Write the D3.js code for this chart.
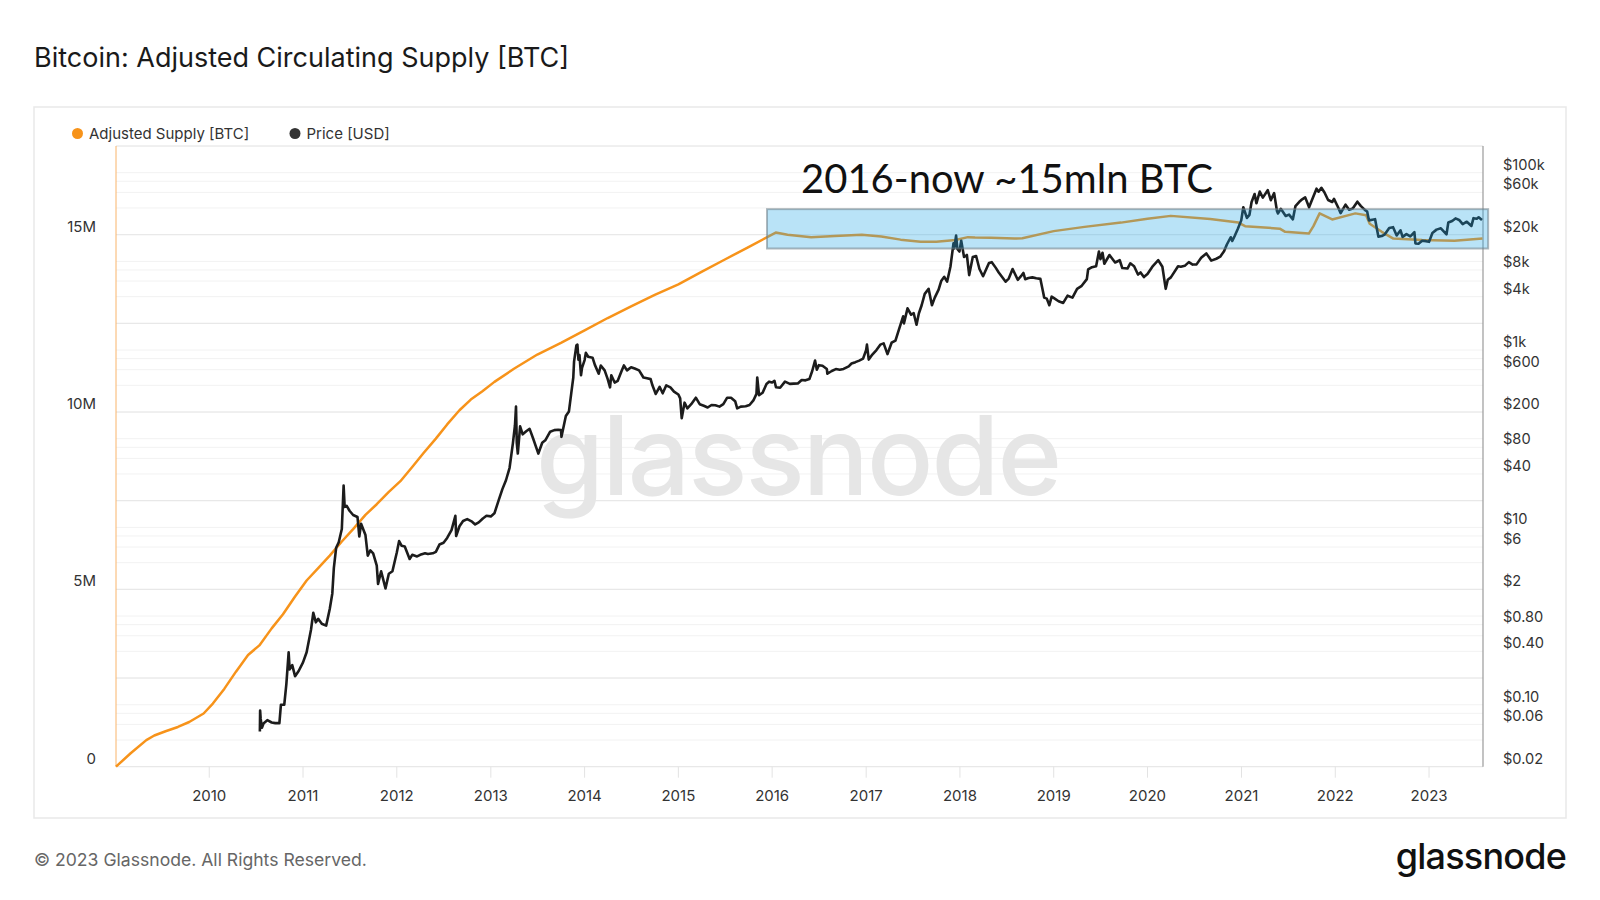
<!DOCTYPE html>
<html>
<head>
<meta charset="utf-8">
<script src="https://cdn.jsdelivr.net/npm/d3@7"></script>
<style>
  html, body { margin: 0; padding: 0; background: #fff; }
  svg { display: block; font-family: Inter, "Noto Sans", sans-serif; }
</style>
</head>
<body>
<div id="chart"></div>
<script>
// Adjusted circulating supply [date, BTC millions]
const supply = [
  ["2009-01-03", 0], ["2009-03-01", 0.38], ["2009-05-01", 0.75], ["2009-06-01", 0.88],
  ["2009-07-15", 1.0], ["2009-09-01", 1.12], ["2009-10-15", 1.26], ["2009-12-10", 1.5],
  ["2010-01-15", 1.78], ["2010-03-01", 2.2], ["2010-04-15", 2.68], ["2010-06-01", 3.15],
  ["2010-07-15", 3.42], ["2010-09-01", 3.9], ["2010-10-15", 4.3], ["2010-12-01", 4.8],
  ["2011-01-15", 5.25], ["2011-03-01", 5.6], ["2011-04-15", 5.95], ["2011-06-01", 6.35],
  ["2011-07-15", 6.7], ["2011-09-01", 7.1], ["2011-10-15", 7.4], ["2011-12-01", 7.75],
  ["2012-01-15", 8.05], ["2012-03-01", 8.45], ["2012-04-15", 8.85], ["2012-06-01", 9.25],
  ["2012-07-15", 9.65], ["2012-09-01", 10.05], ["2012-10-15", 10.35], ["2012-11-28", 10.58],
  ["2013-01-15", 10.85], ["2013-04-01", 11.22], ["2013-07-01", 11.62], ["2013-10-01", 11.95],
  ["2014-01-01", 12.3], ["2014-04-01", 12.65], ["2014-07-01", 12.98], ["2014-10-01", 13.3],
  ["2015-01-01", 13.6], ["2015-04-01", 13.95], ["2015-07-01", 14.3], ["2015-10-01", 14.65],
  ["2016-01-15", 15.06], ["2016-03-01", 15.0], ["2016-06-01", 14.93], ["2016-09-01", 14.96],
  ["2016-12-15", 15.0], ["2017-03-01", 14.95], ["2017-05-15", 14.86], ["2017-08-01", 14.8],
  ["2017-10-01", 14.8], ["2017-12-15", 14.85], ["2018-02-01", 14.93], ["2018-03-01", 14.92],
  ["2018-05-01", 14.91], ["2018-08-01", 14.89], ["2018-09-01", 14.9], ["2019-01-01", 15.1],
  ["2019-05-01", 15.22], ["2019-09-20", 15.34], ["2020-01-01", 15.45], ["2020-04-01", 15.53],
  ["2020-09-01", 15.44], ["2020-12-20", 15.34], ["2021-01-15", 15.24], ["2021-05-30", 15.17],
  ["2021-06-20", 15.08], ["2021-09-20", 15.03], ["2021-10-08", 15.24], ["2021-11-01", 15.6],
  ["2021-12-20", 15.43], ["2022-03-20", 15.6], ["2022-05-01", 15.55], ["2022-05-15", 15.31],
  ["2022-07-01", 15.08], ["2022-08-15", 14.89], ["2022-12-05", 14.85], ["2023-04-10", 14.83],
  ["2023-07-28", 14.89]
];

// BTC price [date, USD]
const price = [
  ["2010-07-17", 0.05], ["2010-07-18", 0.086], ["2010-07-20", 0.07], ["2010-07-25", 0.055],
  ["2010-08-01", 0.062], ["2010-08-15", 0.067], ["2010-09-01", 0.063], ["2010-09-15", 0.062],
  ["2010-10-01", 0.062], ["2010-10-07", 0.1], ["2010-10-20", 0.1], ["2010-10-28", 0.17],
  ["2010-11-06", 0.39], ["2010-11-10", 0.25], ["2010-11-20", 0.28], ["2010-12-01", 0.21],
  ["2010-12-15", 0.24], ["2011-01-01", 0.3], ["2011-01-15", 0.39], ["2011-02-01", 0.7],
  ["2011-02-10", 1.09], ["2011-02-20", 0.85], ["2011-03-01", 0.93], ["2011-03-15", 0.82],
  ["2011-04-01", 0.78], ["2011-04-15", 1.2], ["2011-04-25", 1.8], ["2011-05-01", 3.5],
  ["2011-05-10", 5.9], ["2011-05-20", 6.8], ["2011-06-01", 9.6], ["2011-06-08", 29.6],
  ["2011-06-12", 17], ["2011-06-20", 17.5], ["2011-07-01", 15.4], ["2011-07-15", 13.8],
  ["2011-08-01", 13.1], ["2011-08-08", 7.9], ["2011-08-15", 11.0], ["2011-09-01", 8.2],
  ["2011-09-10", 4.8], ["2011-09-20", 5.5], ["2011-10-01", 5.1], ["2011-10-15", 3.7],
  ["2011-10-20", 2.3], ["2011-11-01", 3.2], ["2011-11-18", 2.05], ["2011-12-01", 3.0],
  ["2011-12-15", 3.2], ["2012-01-01", 5.2], ["2012-01-10", 7.0], ["2012-01-20", 6.2],
  ["2012-02-01", 6.1], ["2012-02-20", 4.4], ["2012-03-01", 4.9], ["2012-03-20", 4.7],
  ["2012-04-01", 4.9], ["2012-04-20", 5.1], ["2012-05-01", 5.0], ["2012-05-20", 5.1],
  ["2012-06-01", 5.3], ["2012-06-15", 6.4], ["2012-07-01", 6.7], ["2012-07-15", 7.6],
  ["2012-08-01", 9.3], ["2012-08-16", 13.5], ["2012-08-19", 8.0], ["2012-09-01", 10.3],
  ["2012-09-15", 11.8], ["2012-10-01", 12.4], ["2012-10-20", 11.6], ["2012-11-01", 10.8],
  ["2012-11-15", 11.4], ["2012-12-01", 12.6], ["2012-12-15", 13.5], ["2013-01-01", 13.3],
  ["2013-01-15", 14.4], ["2013-02-01", 20.4], ["2013-02-15", 27], ["2013-03-01", 34],
  ["2013-03-15", 47], ["2013-03-28", 89], ["2013-04-05", 142], ["2013-04-09", 230],
  ["2013-04-12", 90], ["2013-04-16", 68], ["2013-04-25", 138], ["2013-05-05", 112],
  ["2013-05-20", 122], ["2013-06-01", 129], ["2013-06-15", 100], ["2013-07-05", 68],
  ["2013-07-20", 90], ["2013-08-01", 96], ["2013-08-20", 120], ["2013-09-05", 125],
  ["2013-09-20", 126], ["2013-10-01", 125], ["2013-10-03", 105], ["2013-10-20", 180],
  ["2013-11-01", 203], ["2013-11-10", 325], ["2013-11-18", 490], ["2013-11-21", 740],
  ["2013-11-30", 1130], ["2013-12-04", 1150], ["2013-12-08", 780], ["2013-12-12", 880],
  ["2013-12-18", 520], ["2013-12-22", 630], ["2014-01-01", 770], ["2014-01-06", 930],
  ["2014-01-15", 840], ["2014-02-01", 820], ["2014-02-10", 680], ["2014-02-25", 540],
  ["2014-03-05", 670], ["2014-03-20", 590], ["2014-04-01", 470], ["2014-04-10", 380],
  ["2014-04-15", 520], ["2014-04-28", 430], ["2014-05-10", 450], ["2014-05-25", 580],
  ["2014-06-03", 670], ["2014-06-15", 590], ["2014-07-01", 640], ["2014-07-15", 620],
  ["2014-08-01", 590], ["2014-08-18", 490], ["2014-09-01", 480], ["2014-09-15", 470],
  ["2014-09-22", 400], ["2014-10-05", 320], ["2014-10-20", 385], ["2014-11-01", 325],
  ["2014-11-15", 400], ["2014-12-01", 380], ["2014-12-15", 340], ["2015-01-01", 315],
  ["2015-01-08", 285], ["2015-01-14", 170], ["2015-01-25", 255], ["2015-02-05", 220],
  ["2015-02-20", 245], ["2015-03-10", 290], ["2015-03-25", 245], ["2015-04-10", 235],
  ["2015-04-25", 225], ["2015-05-10", 240], ["2015-05-25", 238], ["2015-06-10", 230],
  ["2015-06-25", 245], ["2015-07-10", 290], ["2015-07-25", 290], ["2015-08-10", 265],
  ["2015-08-18", 220], ["2015-09-01", 230], ["2015-09-20", 232], ["2015-10-05", 240],
  ["2015-10-20", 270], ["2015-11-01", 320], ["2015-11-04", 490], ["2015-11-11", 310],
  ["2015-11-25", 330], ["2015-12-10", 415], ["2015-12-20", 440], ["2016-01-01", 430],
  ["2016-01-10", 450], ["2016-01-16", 380], ["2016-02-01", 375], ["2016-02-20", 440],
  ["2016-03-10", 415], ["2016-03-25", 418], ["2016-04-10", 420], ["2016-04-25", 460],
  ["2016-05-10", 455], ["2016-05-25", 470], ["2016-06-05", 580], ["2016-06-16", 760],
  ["2016-06-23", 600], ["2016-07-01", 675], ["2016-07-15", 665], ["2016-08-01", 610],
  ["2016-08-03", 540], ["2016-08-20", 580], ["2016-09-05", 610], ["2016-09-20", 600],
  ["2016-10-05", 612], ["2016-10-25", 655], ["2016-11-05", 705], ["2016-11-20", 730],
  ["2016-12-05", 760], ["2016-12-20", 800], ["2017-01-01", 1000], ["2017-01-04", 1150],
  ["2017-01-11", 780], ["2017-01-25", 890], ["2017-02-10", 1000], ["2017-02-25", 1150],
  ["2017-03-10", 1190], ["2017-03-25", 900], ["2017-04-10", 1210], ["2017-04-25", 1280],
  ["2017-05-10", 1760], ["2017-05-25", 2400], ["2017-05-28", 2000], ["2017-06-11", 2950],
  ["2017-06-25", 2500], ["2017-07-05", 2600], ["2017-07-16", 1930], ["2017-07-25", 2580],
  ["2017-08-05", 3200], ["2017-08-17", 4300], ["2017-09-01", 4900], ["2017-09-14", 3200],
  ["2017-09-25", 3900], ["2017-10-10", 4800], ["2017-10-20", 6000], ["2017-11-01", 6700],
  ["2017-11-12", 5900], ["2017-11-25", 8700], ["2017-12-07", 16000], ["2017-12-10", 14000],
  ["2017-12-17", 19500], ["2017-12-22", 13800], ["2017-12-30", 12900], ["2018-01-06", 17100],
  ["2018-01-17", 11200], ["2018-01-28", 11800], ["2018-02-06", 7000], ["2018-02-20", 11200],
  ["2018-03-05", 11500], ["2018-03-18", 8200], ["2018-04-01", 6800], ["2018-04-24", 9600],
  ["2018-05-05", 9800], ["2018-05-20", 8500], ["2018-06-01", 7500], ["2018-06-28", 5900],
  ["2018-07-10", 6400], ["2018-07-25", 8200], ["2018-08-14", 6200], ["2018-08-30", 7000],
  ["2018-09-05", 7400], ["2018-09-12", 6300], ["2018-09-25", 6500], ["2018-10-10", 6600],
  ["2018-10-25", 6450], ["2018-11-10", 6350], ["2018-11-20", 4600], ["2018-11-25", 3900],
  ["2018-12-05", 3800], ["2018-12-15", 3200], ["2018-12-24", 4000], ["2019-01-05", 3800],
  ["2019-01-20", 3550], ["2019-02-07", 3400], ["2019-02-24", 4100], ["2019-03-15", 3900],
  ["2019-04-02", 4900], ["2019-04-20", 5300], ["2019-05-10", 6300], ["2019-05-15", 8100],
  ["2019-05-30", 8600], ["2019-06-15", 8800], ["2019-06-26", 12900], ["2019-07-02", 10600],
  ["2019-07-10", 12500], ["2019-07-17", 9400], ["2019-08-06", 11800], ["2019-08-28", 9700],
  ["2019-09-15", 10300], ["2019-09-25", 8400], ["2019-10-15", 8300], ["2019-10-26", 9500],
  ["2019-11-10", 8800], ["2019-11-25", 7100], ["2019-12-05", 7500], ["2019-12-18", 6650],
  ["2020-01-01", 7200], ["2020-01-20", 8700], ["2020-02-12", 10300], ["2020-02-28", 8700],
  ["2020-03-12", 4900], ["2020-03-20", 6200], ["2020-04-01", 6600], ["2020-04-29", 8800],
  ["2020-05-10", 8700], ["2020-05-25", 8900], ["2020-06-10", 9800], ["2020-06-25", 9200],
  ["2020-07-10", 9250], ["2020-07-28", 11000], ["2020-08-17", 12300], ["2020-09-05", 10200],
  ["2020-09-25", 10700], ["2020-10-10", 11300], ["2020-10-25", 13000], ["2020-11-05", 15500],
  ["2020-11-20", 18700], ["2020-11-26", 17000], ["2020-12-05", 19200], ["2020-12-17", 23000],
  ["2020-12-31", 29000], ["2021-01-08", 40800], ["2021-01-22", 30900], ["2021-02-01", 33500],
  ["2021-02-09", 46400], ["2021-02-21", 57500], ["2021-02-28", 45200], ["2021-03-13", 61200],
  ["2021-03-25", 52300], ["2021-04-13", 63500], ["2021-04-25", 49000], ["2021-05-08", 58800],
  ["2021-05-19", 37000], ["2021-05-23", 34700], ["2021-06-03", 39200], ["2021-06-22", 32500],
  ["2021-07-05", 33700], ["2021-07-20", 29800], ["2021-07-30", 42000], ["2021-08-14", 47000],
  ["2021-08-22", 49300], ["2021-09-06", 52700], ["2021-09-21", 40700], ["2021-10-05", 51500],
  ["2021-10-20", 66000], ["2021-10-28", 61000], ["2021-11-08", 67500], ["2021-11-20", 59700],
  ["2021-12-04", 49200], ["2021-12-20", 46700], ["2021-12-27", 50700], ["2022-01-10", 41800],
  ["2022-01-22", 35000], ["2022-02-10", 43600], ["2022-02-24", 38300], ["2022-03-10", 39400],
  ["2022-03-28", 47100], ["2022-04-10", 42200], ["2022-04-26", 38100], ["2022-05-05", 36500],
  ["2022-05-12", 29000], ["2022-05-25", 29500], ["2022-06-05", 29900], ["2022-06-13", 22500],
  ["2022-06-18", 19000], ["2022-07-01", 19300], ["2022-07-13", 20200], ["2022-07-30", 23800],
  ["2022-08-14", 24300], ["2022-08-28", 19600], ["2022-09-12", 22400], ["2022-09-20", 18900],
  ["2022-10-05", 20300], ["2022-10-20", 19100], ["2022-11-05", 21300], ["2022-11-09", 15900],
  ["2022-11-21", 15800], ["2022-12-05", 17100], ["2022-12-20", 16900], ["2023-01-01", 16600],
  ["2023-01-14", 20900], ["2023-01-30", 22800], ["2023-02-16", 23600], ["2023-03-10", 20200],
  ["2023-03-17", 27400], ["2023-04-01", 28500], ["2023-04-14", 30500], ["2023-04-28", 29300],
  ["2023-05-12", 26300], ["2023-05-28", 28000], ["2023-06-15", 25100], ["2023-06-23", 30700],
  ["2023-07-06", 30300], ["2023-07-13", 31400], ["2023-07-26", 29200]
];

const years = [2010, 2011, 2012, 2013, 2014, 2015, 2016, 2017, 2018, 2019, 2020, 2021, 2022, 2023];
const supplyGrid = [0, 2.5, 5, 7.5, 10, 12.5, 15, 17.5];
const supplyLabels = [[0, "0"], [5, "5M"], [10, "10M"], [15, "15M"]];
const priceMantissas = [2, 4, 6, 8, 10];
const priceLabels = [
  [100000, "$100k"], [60000, "$60k"], [20000, "$20k"], [8000, "$8k"], [4000, "$4k"],
  [1000, "$1k"], [600, "$600"], [200, "$200"], [80, "$80"], [40, "$40"],
  [10, "$10"], [6, "$6"], [2, "$2"], [0.8, "$0.80"], [0.4, "$0.40"],
  [0.1, "$0.10"], [0.06, "$0.06"], [0.02, "$0.02"]
];
// highlighted period: start/end dates and supply band (millions)
const highlight = { start: "2015-12-12", end: "2023-08-19", lo: 14.61, hi: 15.72 };

const parse = d3.utcParse("%Y-%m-%d");
const width = 1600;
const height = 900;
const plot = { left: 116, right: 1483, top: 146, bottom: 766.7 };

const x = d3.scaleUtc()
  .domain([parse("2009-01-03"), parse("2023-07-30")])
  .range([plot.left, plot.right]);
const ySupply = d3.scaleLinear().domain([0, 17.5]).range([plot.bottom, plot.top]);
const yPrice = d3.scaleLog().domain([0.02, 200000]).range([plot.bottom, plot.top]);

const svg = d3.select("#chart").append("svg")
  .attr("width", width)
  .attr("height", height);

// title
svg.append("text")
  .attr("x", 34).attr("y", 67)
  .attr("font-size", 27).attr("fill", "#1a1a1a")
  .text("Bitcoin: Adjusted Circulating Supply [BTC]");

// panel
svg.append("rect")
  .attr("x", 34).attr("y", 107).attr("width", 1532).attr("height", 711)
  .attr("fill", "#fff").attr("stroke", "#e9e9e9").attr("stroke-width", 1.5);

// legend
const legend = svg.append("g").attr("font-size", 15).attr("fill", "#333");
[["Adjusted Supply [BTC]", "#f7931a", 77.5], ["Price [USD]", "#333333", 295]].forEach(([label, color, cx]) => {
  legend.append("circle").attr("cx", cx).attr("cy", 133.5).attr("r", 5.5).attr("fill", color);
  legend.append("text").attr("x", cx + 11.5).attr("y", 139).text(label);
});

// grid
const gGrid = svg.append("g");
const priceGrid = [];
for (let k = -2; k <= 4; k++) {
  priceMantissas.forEach((m) => priceGrid.push(+(m * Math.pow(10, k)).toPrecision(3)));
}
priceGrid.push(200000);
gGrid.selectAll(".pgrid")
  .data(priceGrid)
  .join("line")
  .attr("class", "pgrid")
  .attr("x1", plot.left).attr("x2", plot.right)
  .attr("y1", (d) => yPrice(d)).attr("y2", (d) => yPrice(d))
  .attr("stroke", "#f2f2f2").attr("stroke-width", 1);
gGrid.selectAll(".sgrid")
  .data(supplyGrid)
  .join("line")
  .attr("class", "sgrid")
  .attr("x1", plot.left).attr("x2", plot.right)
  .attr("y1", (d) => ySupply(d)).attr("y2", (d) => ySupply(d))
  .attr("stroke", "#e6e6e6").attr("stroke-width", 1);

// x axis ticks + labels
const gX = svg.append("g");
gX.selectAll("line")
  .data(years)
  .join("line")
  .attr("x1", (d) => x(new Date(Date.UTC(d, 0, 1))))
  .attr("x2", (d) => x(new Date(Date.UTC(d, 0, 1))))
  .attr("y1", plot.bottom).attr("y2", plot.bottom + 11)
  .attr("stroke", "#e3e3e3");
gX.selectAll("text")
  .data(years)
  .join("text")
  .attr("x", (d) => x(new Date(Date.UTC(d, 0, 1))))
  .attr("y", 801)
  .attr("text-anchor", "middle")
  .attr("font-size", 15).attr("fill", "#333")
  .text((d) => d);

// left labels
svg.append("g").selectAll("text")
  .data(supplyLabels)
  .join("text")
  .attr("x", 96).attr("y", (d) => ySupply(d[0]) - 3)
  .attr("text-anchor", "end")
  .attr("font-size", 15).attr("fill", "#333")
  .text((d) => d[1]);

// right labels
svg.append("g").selectAll("text")
  .data(priceLabels)
  .join("text")
  .attr("x", 1503).attr("y", (d) => yPrice(d[0]) - 3)
  .attr("font-size", 14.6).attr("fill", "#333")
  .text((d) => d[1]);

// axis lines
svg.append("line")
  .attr("x1", plot.left).attr("x2", plot.left)
  .attr("y1", plot.top).attr("y2", plot.bottom)
  .attr("stroke", "#f9b46a").attr("stroke-width", 1);
svg.append("line")
  .attr("x1", plot.right).attr("x2", plot.right)
  .attr("y1", plot.top).attr("y2", plot.bottom)
  .attr("stroke", "#9a9a9a").attr("stroke-width", 1.2);

// watermark
svg.append("text")
  .attr("x", 536).attr("y", 495)
  .attr("font-size", 110).attr("font-weight", 500)
  .attr("letter-spacing", -2)
  .attr("fill", "#e6e6e6")
  .text("glassnode");

// lines
const supplyLine = d3.line()
  .x((d) => x(parse(d[0])))
  .y((d) => ySupply(d[1]));
const priceLine = d3.line()
  .x((d) => x(parse(d[0])))
  .y((d) => yPrice(d[1]));

svg.append("path")
  .datum(supply)
  .attr("d", supplyLine)
  .attr("fill", "none").attr("stroke", "#f7931a").attr("stroke-width", 2.5)
  .attr("stroke-linejoin", "round");
svg.append("path")
  .datum(price)
  .attr("d", priceLine)
  .attr("fill", "none").attr("stroke", "#1c1c1c").attr("stroke-width", 2.6)
  .attr("stroke-linejoin", "round");

// highlight box
svg.append("rect")
  .attr("x", x(parse(highlight.start)))
  .attr("y", ySupply(highlight.hi))
  .attr("width", x(parse(highlight.end)) - x(parse(highlight.start)))
  .attr("height", ySupply(highlight.lo) - ySupply(highlight.hi))
  .attr("fill", "rgba(30,165,230,0.31)")
  .attr("stroke", "rgba(110,125,135,0.55)").attr("stroke-width", 2);

svg.append("text")
  .attr("x", 801).attr("y", 193)
  .attr("font-family", "Lato, 'Noto Sans', sans-serif")
  .attr("font-size", 40).attr("fill", "#111")
  .text("2016-now ~15mln BTC");

// footer
svg.append("text")
  .attr("x", 34).attr("y", 866)
  .attr("font-size", 17.6).attr("fill", "#666")
  .text("© 2023 Glassnode. All Rights Reserved.");
svg.append("text")
  .attr("x", 1566).attr("y", 869)
  .attr("text-anchor", "end")
  .attr("font-size", 36).attr("font-weight", 500)
  .attr("letter-spacing", -0.8)
  .attr("fill", "#111")
  .text("glassnode");
</script>
</body>
</html>
